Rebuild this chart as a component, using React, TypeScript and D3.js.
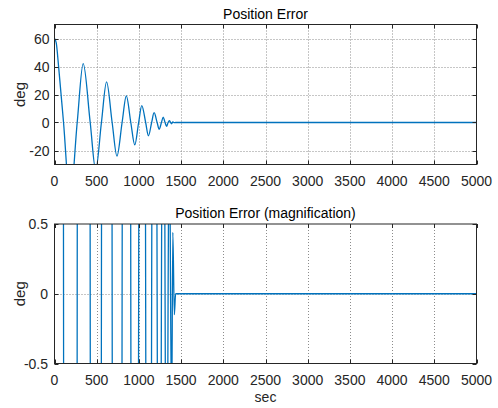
import { useEffect, useRef } from "react";
import * as d3 from "d3";

// samples: zero crossings and extrema of the error
const timeSec = [
  0, 20, 50, 107, 185, 269, 340, 423, 488, 556, 617, 683, 740, 801, 851, 904, 951,
  997, 1034, 1080, 1113, 1151, 1180, 1216, 1240, 1267, 1288, 1310, 1328, 1346,
  1361, 1375, 1388, 1402, 1420, 1435, 5000,
];
const errorDeg = [
  60, 57, 39, 0, -55, 0, 42, 0, -34, 0, 29, 0, -24, 0, 19, 0, -16, 0, 12, 0, -9.5,
  0, 7, 0, -4.8, 0, 3.8, 0, -2.7, 0, 1.4, 0, -0.9, 0.44, -0.15, 0, 0,
];

const xTicks = [0, 500, 1000, 1500, 2000, 2500, 3000, 3500, 4000, 4500, 5000];
const topYTicks = [-20, 0, 20, 40, 60];
const bottomYTicks = [-0.5, 0, 0.5];

const W = 498;
const H = 408;
const FONT = "'Liberation Sans', Arial, sans-serif";

const App = () => {
  const svgRef = useRef<SVGSVGElement | null>(null);

  useEffect(() => {
    const svg = d3.select(svgRef.current);
    svg.selectAll("*").remove();

    const data = timeSec.map((t, i) => ({ t, v: errorDeg[i] }));
    const x = d3.scaleLinear().domain([0, 5000]).range([54.5, 476.5]);

    const drawPanel = (
      id: string,
      top: number,
      bottom: number,
      domain: [number, number],
      yTicks: number[],
      title: string,
      labelRight: number
    ) => {
      const y = d3.scaleLinear().domain(domain).range([bottom, top]);
      const g = svg.append("g");

      g.append("rect")
        .attr("x", x(0))
        .attr("y", top)
        .attr("width", x(5000) - x(0))
        .attr("height", bottom - top)
        .attr("fill", "#fff");

      // grid
      g.append("g")
        .selectAll("line")
        .data(xTicks.slice(1, -1))
        .join("line")
        .attr("x1", (d) => Math.round(x(d)) + 0.5)
        .attr("x2", (d) => Math.round(x(d)) + 0.5)
        .attr("y1", top)
        .attr("y2", bottom)
        .attr("stroke", "#8c8c8c")
        .attr("stroke-dasharray", "1,2");
      g.append("g")
        .selectAll("line")
        .data(yTicks.filter((d) => d !== domain[0] && d !== domain[1]))
        .join("line")
        .attr("x1", x(0))
        .attr("x2", x(5000))
        .attr("y1", (d) => Math.round(y(d)) + 0.5)
        .attr("y2", (d) => Math.round(y(d)) + 0.5)
        .attr("stroke", "#8c8c8c")
        .attr("stroke-dasharray", "1,2");

      // data
      svg
        .append("clipPath")
        .attr("id", id)
        .append("rect")
        .attr("x", x(0))
        .attr("y", top)
        .attr("width", x(5000) - x(0))
        .attr("height", bottom - top);

      const line = d3
        .line<{ t: number; v: number }>()
        .x((d) => x(d.t))
        .y((d) => y(d.v))
        .curve(d3.curveMonotoneX);

      g.append("path")
        .datum(data)
        .attr("clip-path", `url(#${id})`)
        .attr("fill", "none")
        .attr("stroke", "#0072bd")
        .attr("stroke-width", 1.3)
        .attr("d", line);

      // ticks inside on all four sides
      const ticks = g.append("g").attr("stroke", "#262626");
      xTicks.forEach((d) => {
        const px = Math.round(x(d)) + 0.5;
        ticks.append("line").attr("x1", px).attr("x2", px).attr("y1", bottom).attr("y2", bottom - 4);
        ticks.append("line").attr("x1", px).attr("x2", px).attr("y1", top).attr("y2", top + 4);
      });
      yTicks.forEach((d) => {
        const py = Math.round(y(d)) + 0.5;
        ticks.append("line").attr("x1", x(0)).attr("x2", x(0) + 4).attr("y1", py).attr("y2", py);
        ticks.append("line").attr("x1", x(5000)).attr("x2", x(5000) - 4).attr("y1", py).attr("y2", py);
      });

      g.append("rect")
        .attr("x", x(0))
        .attr("y", top)
        .attr("width", x(5000) - x(0))
        .attr("height", bottom - top)
        .attr("fill", "none")
        .attr("stroke", "#262626")
        .attr("stroke-width", 1);

      // labels
      g.append("g")
        .selectAll("text")
        .data(xTicks)
        .join("text")
        .attr("x", (d) => x(d))
        .attr("y", bottom + 21)
        .attr("text-anchor", "middle")
        .attr("font-size", 14)
        .attr("fill", "#262626")
        .text((d) => d);

      g.append("g")
        .selectAll("text")
        .data(yTicks)
        .join("text")
        .attr("x", labelRight)
        .attr("y", (d) => y(d) + 5)
        .attr("text-anchor", "end")
        .attr("font-size", 14)
        .attr("fill", "#262626")
        .text((d) => String(d));

      g.append("text")
        .attr("x", (x(0) + x(5000)) / 2)
        .attr("y", top - 6)
        .attr("text-anchor", "middle")
        .attr("font-size", 14)
        .attr("fill", "#000")
        .text(title);

      g.append("text")
        .attr("transform", `translate(20,${(top + bottom) / 2}) rotate(-90)`)
        .attr("dy", "0.35em")
        .attr("text-anchor", "middle")
        .attr("font-size", 15)
        .attr("fill", "#262626")
        .text("deg");
    };

    drawPanel("clip-top", 24.5, 164.5, [-30, 70], topYTicks, "Position Error", 49.5);
    drawPanel("clip-bottom", 224, 363.5, [-0.5, 0.5], bottomYTicks, "Position Error (magnification)", 48);

    svg
      .append("text")
      .attr("x", (x(0) + x(5000)) / 2)
      .attr("y", 402)
      .attr("text-anchor", "middle")
      .attr("font-size", 14)
      .attr("fill", "#262626")
      .text("sec");
  }, []);

  return (
    <svg
      ref={svgRef}
      width={W}
      height={H}
      style={{ position: "absolute", left: 0, top: 0, background: "#fff", fontFamily: FONT }}
    />
  );
};

export default App;
